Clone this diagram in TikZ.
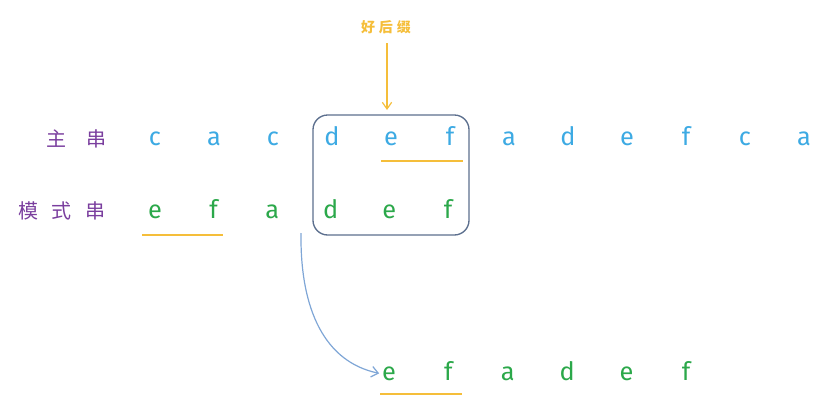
\documentclass[tikz,border=0pt]{standalone}
\usepackage{fontspec}
\setmainfont{Fira Sans}
\newfontfamily\cjk{Noto Sans CJK SC}
\usetikzlibrary{arrows.meta}
\definecolor{mainblue}{HTML}{3DAAE3}
\definecolor{patgreen}{HTML}{2BA84A}
\definecolor{labpurple}{HTML}{7A3E9E}
\definecolor{boxgray}{HTML}{5C6F8E}
\definecolor{sufyellow}{HTML}{F5BE3A}
\definecolor{curveblue}{HTML}{7FA6D6}
\tikzset{
  ch/.style={inner sep=0pt, anchor=base, font=\fontsize{19}{22}\selectfont},
  mainch/.style={ch, text=mainblue},
  patch/.style={ch, text=patgreen},
  lab/.style={inner sep=0pt, anchor=base, text=labpurple, font=\cjk\fontsize{15}{17}\selectfont},
  uline/.style={draw=sufyellow, line width=1.3pt},
  suffixbox/.style={draw=boxgray, line width=1pt, rounded corners=11pt},
}
\begin{document}
\begin{tikzpicture}[x=0.75pt,y=-0.75pt]
\useasboundingbox (0,0) rectangle (833,404);
% labels
\node[lab] (lmain) at (76,146) {主\hspace{15pt}串};
\node[lab] (lpat) at (62,218) {模\hspace{10pt}式\hspace{10pt}串};
% main string
\foreach \c [count=\i] in {c,a,c,d,e,f,a,d,e,f,c,a}{
  \node[mainch] (m\i) at ({155+59*(\i-1)},145) {\c};
}
% pattern string
\foreach \c [count=\i] in {e,f,a,d,e,f}{
  \node[patch] (p\i) at ({155+58.6*(\i-1)},218) {\c};
}
% shifted pattern
\foreach \c [count=\i] in {e,f,a,d,e,f}{
  \node[patch] (s\i) at ({389+59.4*(\i-1)},380) {\c};
}
% box
\draw[suffixbox] (313,115) rectangle (469,235);
% underlines
\draw[uline] (381,161) -- (463,161);
\draw[uline] (142,235) -- (223,235);
\draw[uline] (380,394) -- (462,394);
% good suffix label + arrow
\node[inner sep=0pt, text=sufyellow, font=\cjk\bfseries\fontsize{10.5}{12}\selectfont] (gs) at (386,27) {好\hspace{3pt}后\hspace{3pt}缀};
\coordinate (gsend) at (387,110);
\draw[sufyellow, line width=0.9pt, -{Straight Barb[length=5pt,width=7pt]}] (387,43) -- (gsend);
% curved arrow
\coordinate (cstart) at (301,233);
\draw[curveblue, line width=0.9pt, -{Straight Barb[length=5pt,width=8pt]}]
  (cstart) .. controls (300,310) and (325,362) .. ([xshift=-2pt]s1.west);
\end{tikzpicture}
\end{document}
